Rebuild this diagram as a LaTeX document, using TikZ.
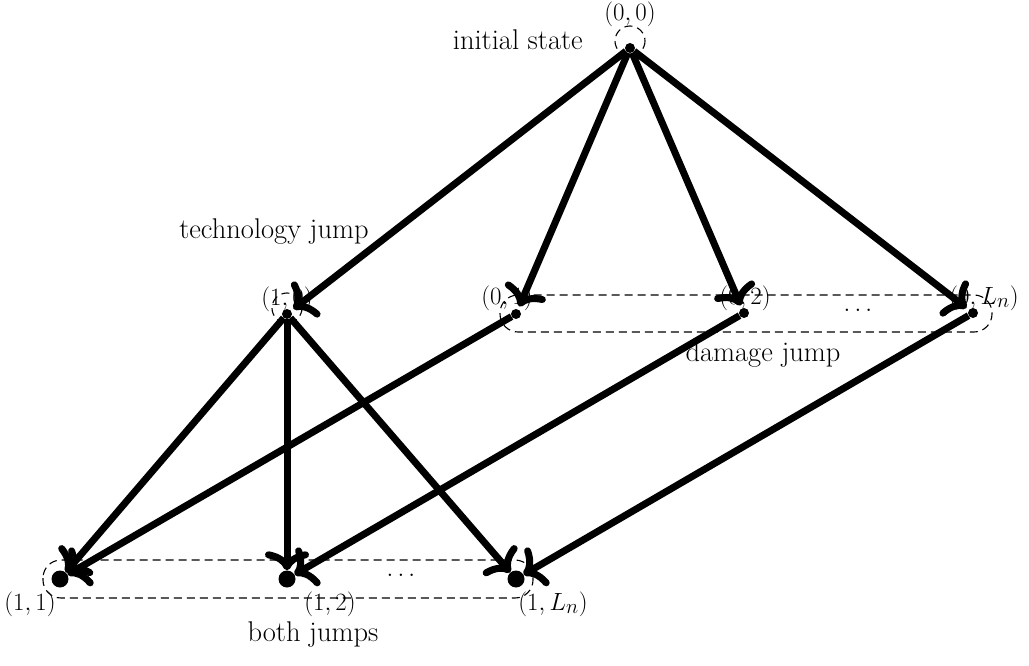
\documentclass[tikz,border=0pt]{standalone}
\usetikzlibrary{arrows.meta}
\begin{document}
\begin{tikzpicture}[x=1pt,y=-1pt,
  lbl/.style={font=\fontsize{28.5}{32}\selectfont, inner sep=0pt},
  topdot/.style={circle,fill,inner sep=0pt,minimum size=10pt},
  botdot/.style={circle,fill,inner sep=0pt,minimum size=17pt},
  arr/.style={-{Computer Modern Rightarrow[length=19pt,width=44pt,line cap=round]},line width=7pt},
  grp/.style={dash pattern=on 8pt off 5pt,line width=1.1pt}]
\useasboundingbox (0,0) rectangle (1029,666);
% nodes
\node[topdot] (n00) at (630,48) {};
\node[topdot] (n10) at (287,314) {};
\node[topdot] (n01) at (516,314) {};
\node[topdot] (n02) at (744,313) {};
\node[topdot] (n0L) at (973,313) {};
\node[botdot] (n11) at (60,579) {};
\node[botdot] (n12) at (287,579) {};
\node[botdot] (n1L) at (516,579) {};
% dashed groups
\draw[grp, rounded corners=18pt] (500,295) rectangle (992,332);
\draw[grp, rounded corners=18pt] (43,560) rectangle (533,598);
\draw[grp] (630,41) circle[radius=15];
\draw[grp] (287,308) circle[radius=15];
% labels
\node[lbl] (l00) at (630,14) {$(0,0)$};
\node[lbl,anchor=east] (lis) at (583,40) {initial state};
\node[lbl] (ltj) at (274,232) {technology jump};
\node[lbl] (l10) at (287,299) {$(1,0)$};
\node[lbl] (l01) at (507,298) {$(0,1)$};
\node[lbl] (l02) at (745,298) {$(0,2)$};
\node[lbl] (l0L) at (984,298) {$(0,L_n)$};
\node[lbl] (ld1) at (858,310) {$\dots$};
\node[lbl] (ldj) at (763,355) {damage jump};
\node[lbl] (l11) at (30,604) {$(1,1)$};
\node[lbl] (l12) at (330,604) {$(1,2)$};
\node[lbl] (l1L) at (553,604) {$(1,L_n)$};
\node[lbl] (ld2) at (401,575) {$\dots$};
\node[lbl] (lbj) at (313,634) {both jumps};
% arrows
\draw[arr,shorten >=3pt] (n00) -- (n10);
\draw[arr,shorten >=3pt] (n00) -- (n01);
\draw[arr,shorten >=3pt] (n00) -- (n02);
\draw[arr,shorten >=3pt] (n00) -- (n0L);
\draw[arr] (n10) -- (n11);
\draw[arr] (n10) -- (n12);
\draw[arr] (n10) -- (n1L);
\draw[arr] (n01) -- (n11);
\draw[arr] (n02) -- (n12);
\draw[arr] (n0L) -- (n1L);
\end{tikzpicture}
\end{document}
